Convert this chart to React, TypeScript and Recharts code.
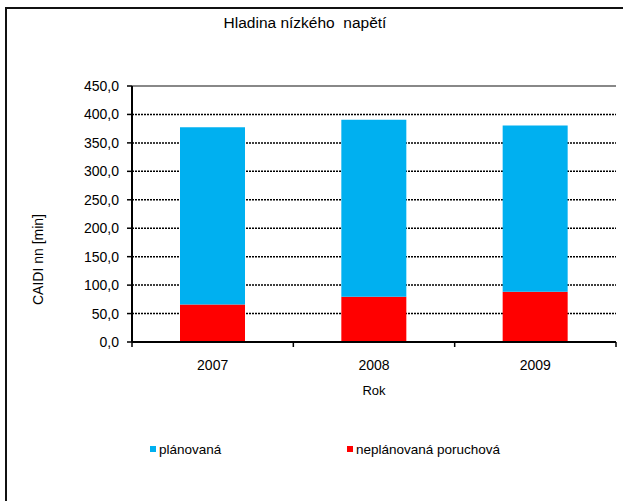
import React from "react";
import {
  BarChart,
  Bar,
  XAxis,
  YAxis,
  CartesianGrid,
  ReferenceLine,
} from "recharts";

const years = ["2007", "2008", "2009"];
const neplanovana = [66.1, 79.6, 88.4];
const planovana = [311.6, 311.1, 292.3];
const yTicks = [0, 50, 100, 150, 200, 250, 300, 350, 400, 450];

const BLUE = "#00B0F0";
const RED = "#FF0000";
const FONT = "'Liberation Sans', Arial, sans-serif";
const X_TICK_GAP = 18; // tickSize + tickMargin of the category axis

const legendItems = [
  { name: "plánovaná", color: BLUE, left: 150 },
  { name: "neplánovaná poruchová", color: RED, left: 347 },
];

const data = years.map((y, i) => ({
  rok: y,
  neplanovana: neplanovana[i],
  planovana: planovana[i],
}));

const fmt = (v: number) => v.toFixed(1).replace(".", ",");

// category label plus Excel-like tick marks between the categories
function YearTick(props: any) {
  const { x, y, payload, index } = props;
  const half = payload.offset ?? 0;
  const axisY = y - X_TICK_GAP;
  const last = index === years.length - 1;
  return (
    <g>
      <line x1={x - half} x2={x - half} y1={axisY} y2={axisY + 5} stroke="#000" strokeWidth={1.5} />
      {last && (
        <line x1={x + half} x2={x + half} y1={axisY} y2={axisY + 5} stroke="#000" strokeWidth={1.5} />
      )}
      <text x={x} y={y} dy="0.71em" textAnchor="middle" fill="#000" fontSize={14} fontFamily={FONT}>
        {payload.value}
      </text>
    </g>
  );
}

function ChartLegend() {
  return (
    <div style={{ position: "absolute", left: 0, top: 440, height: 18, width: 623 }}>
      {legendItems.map(it => (
        <div
          key={it.name}
          style={{
            position: "absolute",
            left: it.left,
            top: 0,
            height: 18,
            display: "flex",
            alignItems: "center",
            fontSize: 13.5,
            color: "#000",
            fontFamily: FONT,
          }}
        >
          <span
            style={{
              width: 6,
              height: 6,
              background: it.color,
              display: "inline-block",
              marginRight: 3,
            }}
          />
          {it.name}
        </div>
      ))}
    </div>
  );
}

export default function App() {
  return (
    <div
      style={{
        position: "absolute",
        left: 0,
        top: 0,
        width: 623,
        height: 501,
        overflow: "hidden",
        background: "#fff",
        fontFamily: FONT,
      }}
    >
      {/* chart frame */}
      <div
        style={{
          position: "absolute",
          left: 5,
          top: 7,
          width: 660,
          height: 540,
          border: "2px solid #111",
        }}
      />
      <div
        style={{
          position: "absolute",
          left: 0,
          width: 610,
          top: 13,
          textAlign: "center",
          fontSize: 15.5,
          lineHeight: "20px",
          color: "#000",
        }}
      >
        Hladina nízkého&nbsp; napětí
      </div>
      <div style={{ position: "absolute", left: 0, top: 0 }}>
        <BarChart
          width={623}
          height={501}
          data={data}
          margin={{ top: 86, right: 7, left: 72, bottom: 99 }}
        >
          <CartesianGrid
            vertical={false}
            stroke="#000"
            strokeWidth={1.5}
            strokeDasharray="2 1"
          />
          <XAxis
            dataKey="rok"
            tickLine={false}
            tickSize={6}
            axisLine={{ stroke: "#000", strokeWidth: 2 }}
            tickMargin={12}
            tick={<YearTick />}
            height={60}
            label={{
              value: "Rok",
              position: "insideBottom",
              offset: 7,
              fill: "#000",
              fontSize: 13,
              fontFamily: FONT,
            }}
          />
          <YAxis
            width={60}
            domain={[0, 450]}
            ticks={yTicks}
            interval={0}
            tickFormatter={fmt}
            tickSize={5}
            tickMargin={8}
            axisLine={{ stroke: "#000", strokeWidth: 2 }}
            tickLine={{ stroke: "#000", strokeWidth: 1.5 }}
            tick={{ fill: "#000", fontSize: 14, fontFamily: FONT }}
            label={{
              value: "CAIDI nn [min]",
              angle: -90,
              position: "left",
              offset: 34,
              fill: "#000",
              fontSize: 14,
              fontFamily: FONT,
            }}
          />
          <YAxis
            yAxisId="right"
            orientation="right"
            width={0}
            domain={[0, 450]}
            tick={false}
            tickLine={false}
            axisLine={{ stroke: "#888", strokeWidth: 2 }}
          />
          <ReferenceLine y={450} stroke="#888" strokeWidth={2} />
          <Bar
            dataKey="neplanovana"
            name="neplánovaná poruchová"
            stackId="a"
            fill={RED}
            barSize={65}
            isAnimationActive={false}
          />
          <Bar
            dataKey="planovana"
            name="plánovaná"
            stackId="a"
            fill={BLUE}
            barSize={65}
            isAnimationActive={false}
          />
        </BarChart>
      </div>
      <ChartLegend />
    </div>
  );
}
